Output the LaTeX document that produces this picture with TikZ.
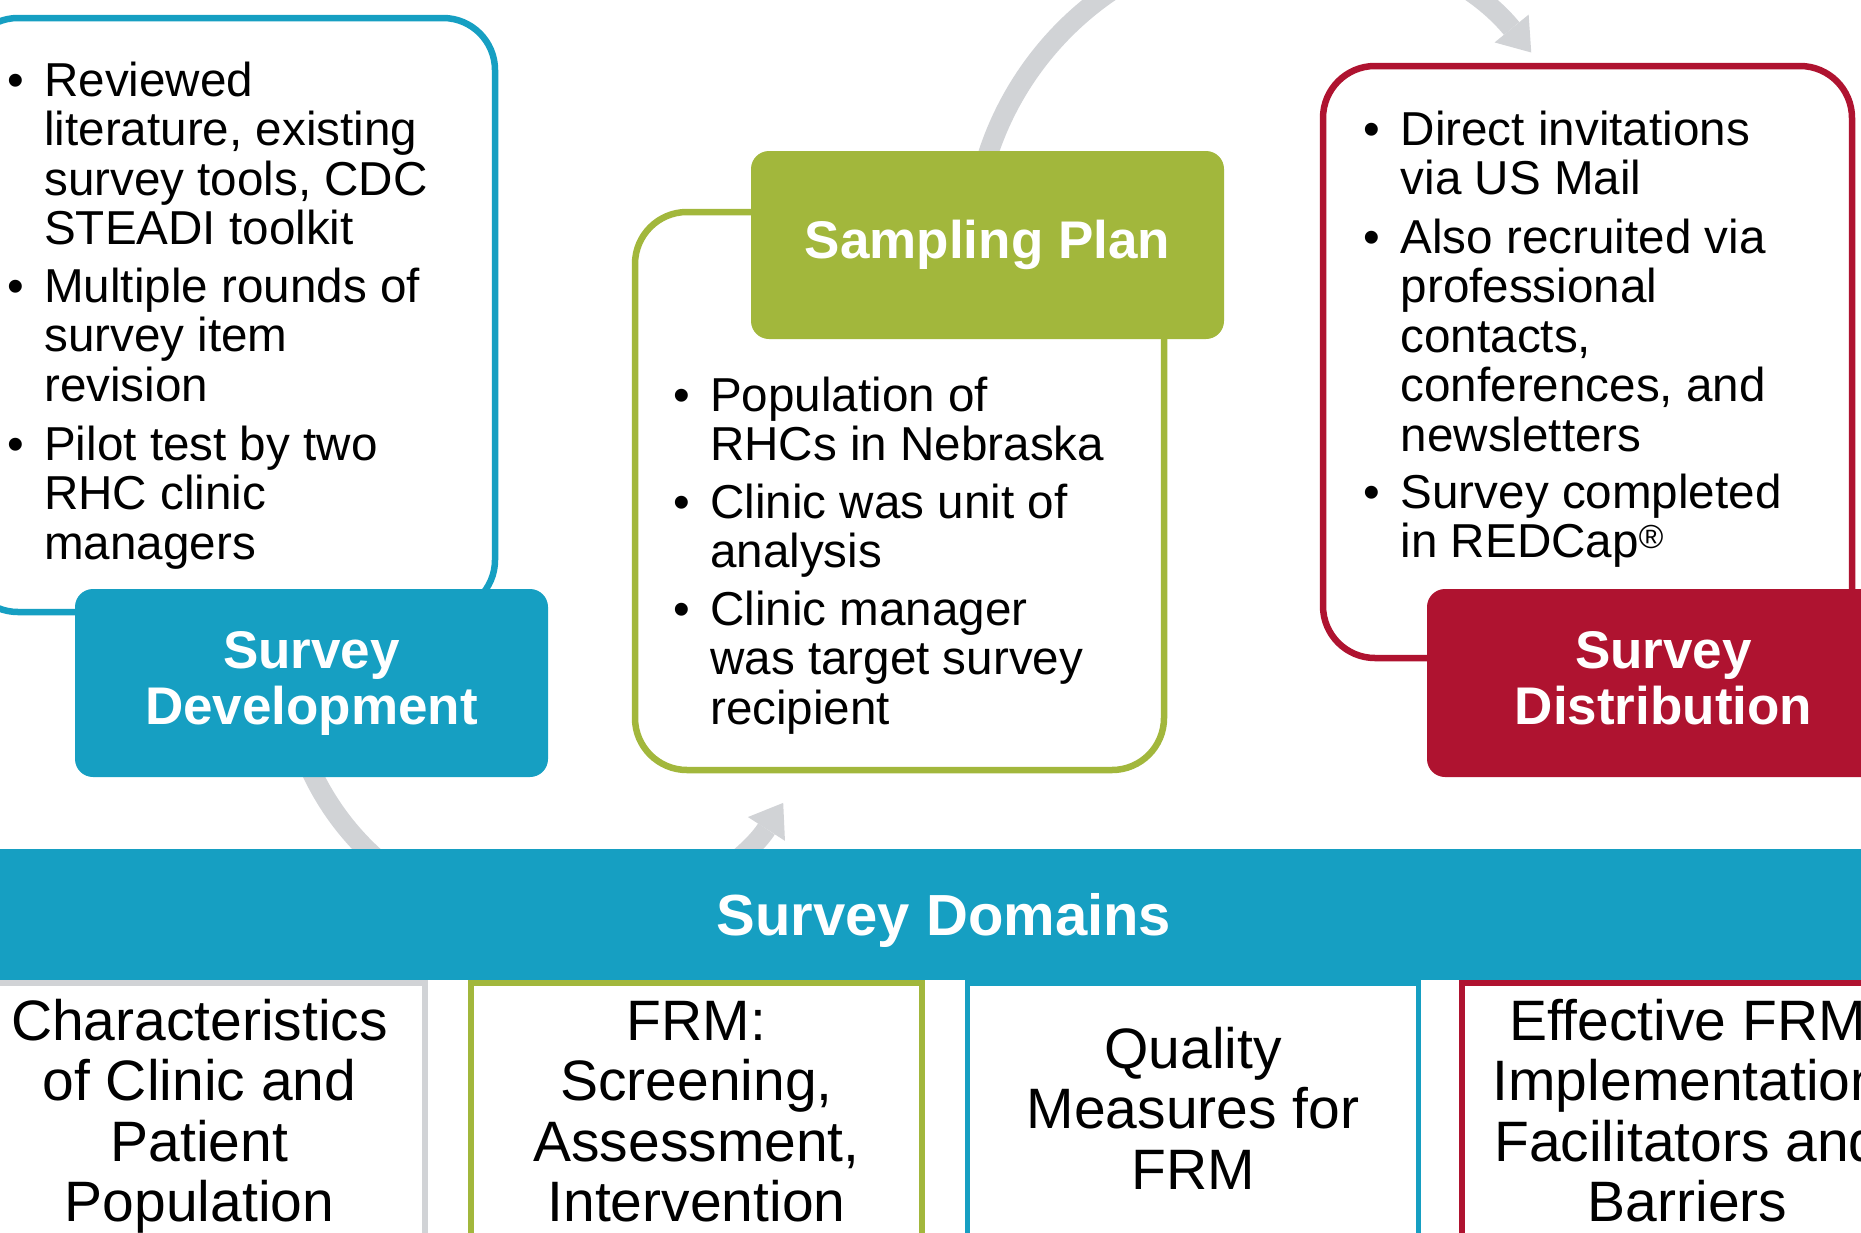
\documentclass[tikz,border=0pt]{standalone}
\usepackage{fontspec}
\setmainfont{Liberation Sans}
\usetikzlibrary{arrows.meta}
\definecolor{survblue}{HTML}{169FC2}
\definecolor{sampgreen}{HTML}{A2B73C}
\definecolor{distred}{HTML}{AF1330}
\definecolor{arcgray}{HTML}{D1D3D6}
\begin{document}
\begin{tikzpicture}[x=1pt,y=1pt,
  head/.style={rounded corners=18pt,minimum width=473pt,minimum height=188pt,inner sep=0pt,text=white,align=center,text depth=11pt,font=\bfseries\fontsize{53}{56}\selectfont},
  outl/.style={rounded corners=52pt,line width=6.5pt,fill=white,minimum width=529pt,inner sep=0pt},
  bul/.style={align=left,anchor=base west,inner sep=0pt,font=\fontsize{47.6}{49.5}\selectfont},
  dombox/.style={line width=5.5pt,minimum width=451pt,minimum height=317pt,inner sep=0pt},
  domtext/.style={align=center,anchor=base,inner sep=0pt,font=\fontsize{57}{60.6}\selectfont},
  flow/.style={draw=arcgray,line width=20pt,-{Triangle[length=31pt,width=44pt,line width=0pt]}}]
\useasboundingbox (0,0) rectangle (1861,-1232);
\clip (0,0) rectangle (1861,-1232);

% grey cycle arrows
\coordinate (c1) at (556,-657);
\coordinate (c2) at (1287.5,-252);
\draw[flow] ([shift={(200:270)}]c1) arc[start angle=200,end angle=327.3,radius=270];
\draw[flow] ([shift={(185:315)}]c2) arc[start angle=185,end angle=39.3,radius=315];

% outlined boxes
\node[outl,draw=survblue,minimum height=594pt] (devout) at (230.5,-315) {};
\node[outl,draw=sampgreen,minimum height=558pt] (sampout) at (899.5,-491) {};
\node[outl,draw=distred,minimum height=592pt] (distout) at (1587.5,-362) {};

% headers
\node[head,fill=survblue] (dev) at (311.5,-683) {Survey\\Development};
\node[head,fill=sampgreen] (samp) at (987.5,-245) {Sampling Plan};
\node[head,fill=distred] (dist) at (1663.5,-683) {Survey\\Distribution};

% bullets (placed at baseline of last line)
\node[bul] (dev1) at (44,-244.5) {\llap{•\hspace{20pt}}Reviewed\\literature, existing\\survey tools, CDC\\STEADI toolkit};
\node[bul] (dev2) at (44,-401) {\llap{•\hspace{20pt}}Multiple rounds of\\survey item\\revision};
\node[bul] (dev3) at (44,-559) {\llap{•\hspace{20pt}}Pilot test by two\\RHC clinic\\managers};

\node[bul] (samp1) at (710,-460.5) {\llap{•\hspace{20.5pt}}Population of\\RHCs in Nebraska};
\node[bul] (samp2) at (710,-567.5) {\llap{•\hspace{20.5pt}}Clinic was unit of\\analysis};
\node[bul] (samp3) at (710,-724) {\llap{•\hspace{20.5pt}}Clinic manager\\was target survey\\recipient};

\node[bul] (dist1) at (1400.5,-194.5) {\llap{•\hspace{20.5pt}}Direct invitations\\via US Mail};
\node[bul] (dist2) at (1400.5,-451) {\llap{•\hspace{20.5pt}}Also recruited via\\professional\\contacts,\\conferences, and\\newsletters};
\node[bul] (dist3) at (1400.5,-557.5) {\llap{•\hspace{20.5pt}}Survey completed\\in REDCap\textsuperscript{®}};

% domains
\node[dombox,draw=arcgray] (dom1) at (199.5,-1141.5) {};
\node[dombox,draw=sampgreen] (dom2) at (696.5,-1141.5) {};
\node[dombox,draw=survblue] (dom3) at (1193,-1141.5) {};
\node[dombox,draw=distred] (dom4) at (1687.5,-1141.5) {};
\node[fill=survblue,minimum width=1908pt,minimum height=131pt,inner sep=0pt,text=white,text depth=0pt,font=\bfseries\fontsize{58}{60}\selectfont] (domains) at (944,-914.5) {Survey Domains};

\node[domtext] (dom1t) at (199.5,-1221.8) {Characteristics\\of Clinic and\\Patient\\Population};
\node[domtext] (dom2t) at (696.5,-1221.8) {FRM:\\Screening,\\Assessment,\\Intervention};
\node[domtext] (dom3t) at (1193,-1189.2) {Quality\\Measures for\\FRM};
\node[domtext] (dom4t) at (1687.5,-1221.8) {Effective FRM\\Implementation\\Facilitators and\\Barriers};
\end{tikzpicture}
\end{document}
